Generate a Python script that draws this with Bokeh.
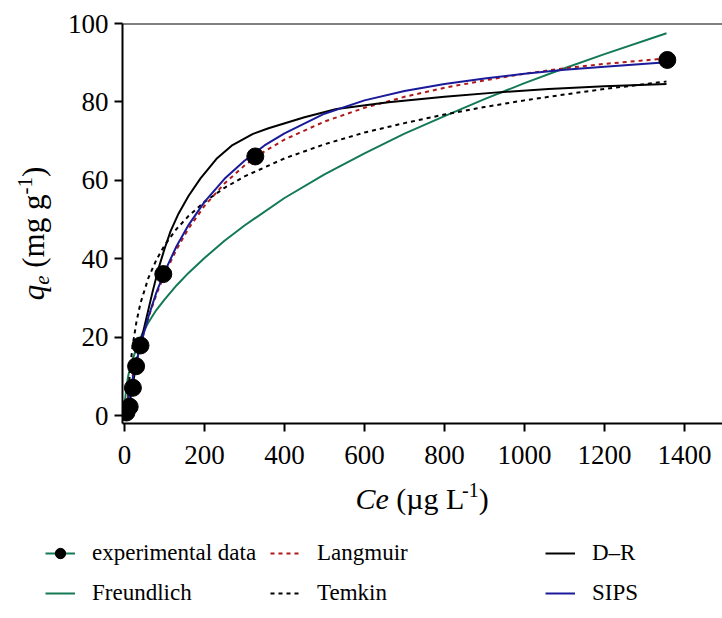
import math
from bokeh.plotting import figure
from bokeh.layouts import column, row
from bokeh.models import Range1d, FixedTicker, Span, Label, Legend, LegendItem
from bokeh.embed import file_html
from bokeh.resources import INLINE

# ---------------- data ----------------
exp_ce = [5, 13, 21, 29, 40, 97, 327, 1357]
exp_qe = [0.8, 2.3, 7.1, 12.6, 17.9, 36.1, 66.1, 90.7]

fr_ce = [1, 5, 10, 20, 30, 45, 60, 80, 100, 130, 160, 200, 250, 300, 400, 500,
         600, 700, 800, 900, 1000, 1100, 1200, 1355]
fr_qe = [3.5, 7.5, 10.5, 14.3, 17.2, 21.0, 23.8, 27.0, 29.6, 33.2, 36.4, 40.2,
         44.6, 48.5, 55.5, 61.5, 66.9, 71.9, 76.4, 80.7, 84.8, 88.6, 92.2, 97.5]

la_ce = [0, 10, 20, 30, 40, 60, 80, 100, 130, 160, 200, 250, 300, 350, 400, 500,
         600, 700, 800, 900, 1000, 1100, 1200, 1355]
la_qe = [0, 5.2, 10.0, 14.3, 18.2, 25.1, 31.0, 36.0, 42.4, 47.7, 53.5, 59.2,
         63.8, 67.4, 70.4, 75.0, 78.5, 81.3, 83.6, 85.5, 87.2, 88.6, 89.7, 91.1]

te_ce = [7, 10, 15, 20, 30, 40, 60, 80, 100, 130, 160, 200, 250, 300, 400, 500,
         600, 700, 800, 900, 1000, 1100, 1200, 1355]
te_qe = [0.7, 6.4, 12.9, 17.6, 24.0, 28.7, 35.2, 39.8, 43.4, 47.6, 50.9, 54.5,
         58.1, 61.0, 65.6, 69.2, 72.2, 74.6, 76.8, 78.7, 80.4, 81.9, 83.3, 85.2]

dr_ce = [2, 5, 10, 15, 20, 30, 40, 55, 70, 85, 100, 115, 135, 160, 190, 230, 270,
         320, 360, 450, 530, 660, 800, 940, 1060, 1200, 1355]
dr_qe = [0, 0.5, 2.0, 4.5, 7.5, 13.5, 18.5, 25.0, 31.5, 37.5, 42.5, 47.0, 51.5,
         56.0, 60.5, 65.5, 69.0, 71.8, 73.3, 76.1, 78.2, 79.9, 81.3, 82.5, 83.3,
         84.0, 84.6]

sips_ce = [0, 10, 20, 30, 40, 60, 80, 100, 130, 160, 200, 250, 300, 350, 400, 500,
           600, 700, 800, 900, 1000, 1100, 1200, 1355]
sips_qe = [0, 4.5, 9.3, 13.8, 18.0, 25.3, 31.5, 36.6, 43.2, 48.6, 54.5, 60.4,
           65.0, 68.9, 72.0, 77.0, 80.4, 82.8, 84.6, 86.0, 87.2, 88.2, 89.0, 90.1]

x_ticks = [0, 200, 400, 600, 800, 1000, 1200, 1400]
y_ticks = [0, 20, 40, 60, 80, 100]

# ---------------- styles ----------------
FONT = "Liberation Serif"
GREEN = "#137a55"
RED = "#b01818"
BLUE = "#1a1a9a"
BLACK = "#000000"
DOT = "4 4"

TOP_H = 475
W_LEFT = 60
W_TOTAL = 722
H_BOT = 143
NAN = float("nan")


def blank(width, height, y_range=None):
    f = figure(width=width, height=height, output_backend="svg",
               toolbar_location=None, title=None, x_axis_location=None,
               y_axis_location=None, x_range=Range1d(0, width),
               y_range=y_range if y_range is not None else Range1d(0, height),
               min_border_left=0, min_border_right=0, min_border_top=0,
               min_border_bottom=0)
    f.outline_line_color = None
    f.grid.visible = False
    f.background_fill_color = "white"
    f.border_fill_color = "white"
    return f


# ---------------- main chart ----------------
p = figure(width=W_TOTAL - W_LEFT, height=TOP_H, output_backend="svg",
           toolbar_location=None, title=None,
           x_range=Range1d(-5, 1495), y_range=Range1d(-2, 100),
           min_border_left=62, min_border_right=0, min_border_top=23,
           min_border_bottom=52)
p.outline_line_color = None
p.xgrid.visible = False
p.ygrid.visible = False
p.background_fill_color = "white"
p.border_fill_color = "white"

for ax in (p.xaxis[0], p.yaxis[0]):
    ax.axis_line_width = 2
    ax.axis_line_color = BLACK
    ax.major_tick_line_width = 2
    ax.major_tick_line_color = BLACK
    ax.major_tick_in = 0
    ax.major_tick_out = 8
    ax.minor_tick_line_color = None
    ax.major_label_text_font = FONT
    ax.major_label_text_font_size = "27px"
    ax.major_label_text_color = BLACK
p.xaxis.ticker = FixedTicker(ticks=x_ticks)
p.yaxis.ticker = FixedTicker(ticks=y_ticks)
p.xaxis.major_label_standoff = 14
p.yaxis.major_label_standoff = 6

p.add_layout(Span(location=100, dimension="width", line_color=BLACK, line_width=2))

p.line(fr_ce, fr_qe, line_color=GREEN, line_width=2)
p.line(te_ce, te_qe, line_color=BLACK, line_width=2, line_dash=DOT)
p.line(la_ce, la_qe, line_color=RED, line_width=2, line_dash=DOT)
p.line(dr_ce, dr_qe, line_color=BLACK, line_width=2)
p.line(sips_ce, sips_qe, line_color=BLUE, line_width=2)
p.scatter(exp_ce, exp_qe, size=17, marker="circle", fill_color=BLACK,
          line_color=BLACK)


def lab(fig, text, x, y, size, style="normal", angle=0.0):
    fig.add_layout(Label(x=x, y=y, text=text, text_font=FONT,
                         text_font_size=size, text_font_style=style,
                         angle=angle, text_align="left",
                         text_baseline="alphabetic", text_color=BLACK))


# ---------------- y title panel (shares the chart's y scale) ----------------
py = blank(W_LEFT, TOP_H, y_range=p.y_range)
a = math.pi / 2
PXU = 102.0 / 400.0          # qe units per pixel in the chart frame
y0 = 29.4
lab(py, "q", 33, y0, "31px", "italic", a)
lab(py, "e", 41, y0 + 15.5 * PXU, "21px", "italic", a)
lab(py, "(mg g", 33, y0 + 32.6 * PXU, "31px", "normal", a)
lab(py, "-1", 24, y0 + 105.8 * PXU, "21px", "normal", a)
lab(py, ")", 33, y0 + 123.3 * PXU, "31px", "normal", a)

# ---------------- bottom panel: x title + legend ----------------
pb = blank(W_TOTAL, H_BOT)
xb, bl = 355, 120
lab(pb, "Ce", xb, bl, "30px", "italic")
lab(pb, "(\u00b5g L", xb + 40.8, bl, "30px")
lab(pb, "-1", xb + 106.6, bl + 8.7, "20px")
lab(pb, ")", xb + 123.3, bl, "30px")

# legend swatches (key only, nothing plotted)
k_fr = pb.line([NAN], [NAN], line_color=GREEN, line_width=2)
k_ex = pb.scatter([NAN], [NAN], size=13, marker="circle", fill_color=BLACK,
                  line_color=BLACK)
k_la = pb.line([NAN], [NAN], line_color=RED, line_width=2, line_dash=DOT)
k_te = pb.line([NAN], [NAN], line_color=BLACK, line_width=2, line_dash=DOT)
k_dr = pb.line([NAN], [NAN], line_color=BLACK, line_width=2)
k_si = pb.line([NAN], [NAN], line_color=BLUE, line_width=2)


def make_legend(items, loc):
    lg = Legend(items=items, location=loc, orientation="vertical",
                border_line_color=None, background_fill_alpha=0,
                padding=0, margin=0, spacing=14,
                glyph_width=30, glyph_height=26, label_height=26,
                label_standoff=17, label_text_font=FONT,
                label_text_font_size="23px", label_text_color=BLACK)
    pb.add_layout(lg, "center")


make_legend([LegendItem(label="experimental data", renderers=[k_fr, k_ex]),
             LegendItem(label="Freundlich", renderers=[k_fr])], (45, 12))
make_legend([LegendItem(label="Langmuir", renderers=[k_la]),
             LegendItem(label="Temkin", renderers=[k_te])], (270, 12))
make_legend([LegendItem(label="D\u2013R", renderers=[k_dr]),
             LegendItem(label="SIPS", renderers=[k_si])], (545, 12))

layout = column(row(py, p, spacing=0), pb, spacing=0)

open("out.html", "w").write(file_html(layout, INLINE))
